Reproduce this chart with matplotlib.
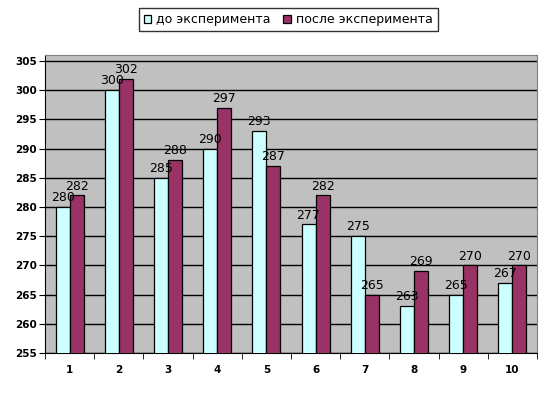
import numpy as np
import matplotlib
matplotlib.use('Agg')
import matplotlib.pyplot as plt

# data
groups = ['1', '2', '3', '4', '5', '6', '7', '8', '9', '10']
before = [280, 300, 285, 290, 293, 277, 275, 263, 265, 267]
after = [282, 302, 288, 297, 287, 282, 265, 269, 270, 270]
yticks = list(range(255, 306, 5))

fig = plt.figure(figsize=(5.53, 3.97), dpi=100)
ax = fig.add_axes([0.0814, 0.111, 0.8896, 0.75])

x = np.arange(len(groups))
w = 1 / 3.5

b1 = ax.bar(x - w / 2, before, w, color='#CCFFFF', edgecolor='black',
            linewidth=0.9, label='до эксперимента', zorder=3)
b2 = ax.bar(x + w / 2, after, w, color='#993366', edgecolor='black',
            linewidth=0.9, label='после эксперимента', zorder=3)

for bars, vals in [(b1, before), (b2, after)]:
    for rect, v in zip(bars, vals):
        ax.annotate(str(v), (rect.get_x() + rect.get_width() / 2, v),
                    xytext=(0, 2), textcoords='offset points',
                    ha='center', va='bottom', fontsize=9, zorder=4)

ax.set_facecolor('#C0C0C0')
ax.set_xlim(-0.5, len(groups) - 0.5)
ax.set_ylim(255, 306)
ax.set_yticks(yticks)
ax.set_yticklabels([str(t) for t in yticks], fontsize=7.5, fontweight='bold')
ax.yaxis.grid(True, color='black', linewidth=1.0, zorder=1)
ax.set_axisbelow(True)

ax.set_xticks(x)
ax.set_xticklabels(groups, fontsize=7.5, fontweight='bold')
ax.set_xticks(np.arange(-0.5, len(groups)), minor=True)
ax.tick_params(axis='x', which='major', length=0, pad=9)
ax.tick_params(axis='x', which='minor', length=4, direction='out', color='black')
ax.tick_params(axis='y', length=4, direction='out', pad=2)

for side in ['top', 'right']:
    ax.spines[side].set_color('#808080')
for side in ['left', 'bottom']:
    ax.spines[side].set_color('black')

leg = fig.legend(loc='center', bbox_to_anchor=(0.521, 0.95), ncol=2, fontsize=9,
                 frameon=True, fancybox=False, edgecolor='black',
                 handlelength=0.6, handleheight=0.6, handletextpad=0.4,
                 columnspacing=1.0, borderpad=0.4)
leg.get_frame().set_linewidth(1.0)

fig.savefig('out.png', dpi=100)
